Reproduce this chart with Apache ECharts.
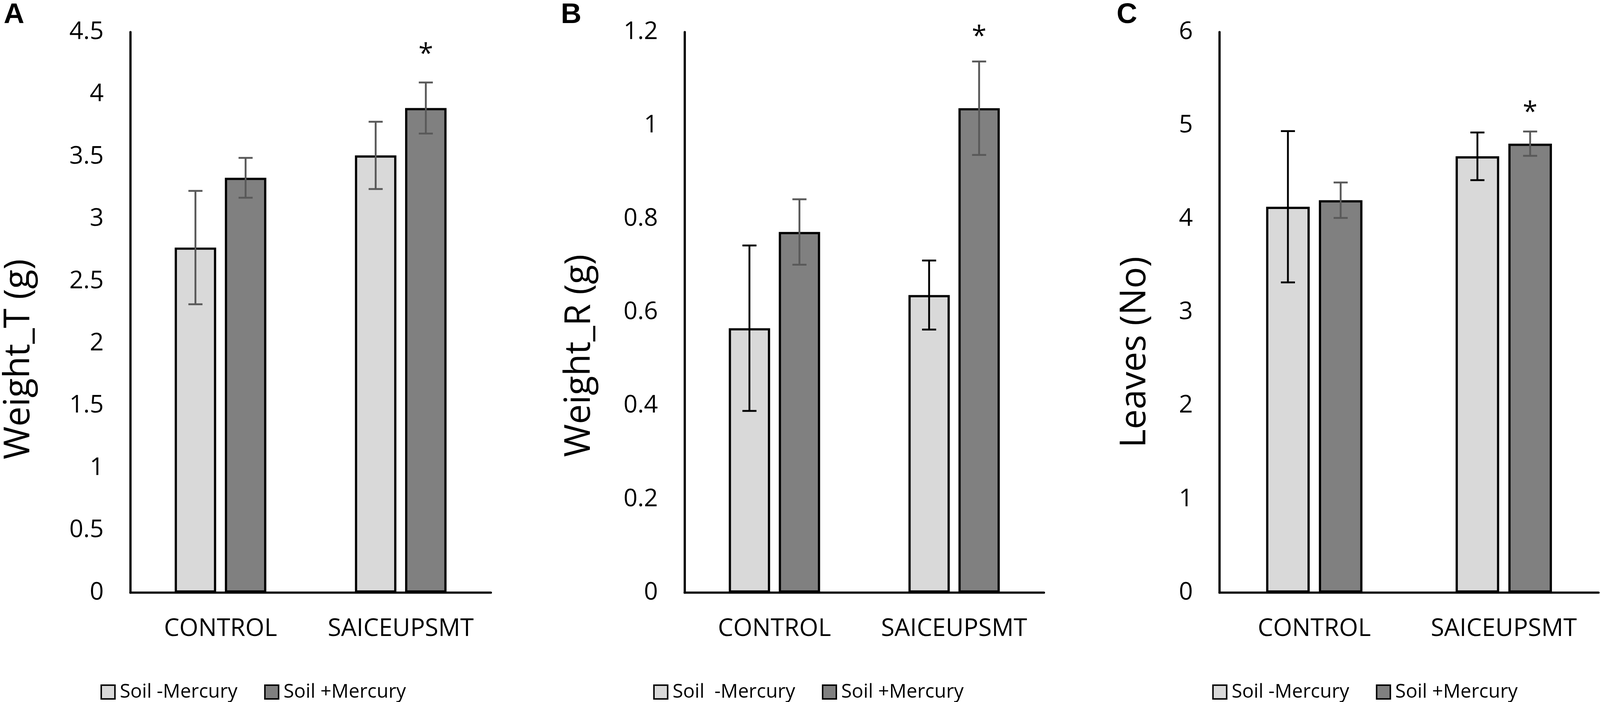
<!DOCTYPE html>
<html>
<head>
<meta charset="utf-8">
<title>Weight and leaves</title>
<script src="https://cdn.jsdelivr.net/npm/echarts@6/dist/echarts.min.js"></script>
<style>
  html, body { margin: 0; padding: 0; background: #fff; overflow: hidden; }
  #main { width: 100vw; height: 100vh; }
</style>
</head>
<body>
<div id="main"></div>
<script>
// categories
var categories = ['CONTROL', 'SAICEUPSMT'];

// A: Weight_T (g)
var weightTMinus = [2.77, 3.51];
var weightTMinusErr = [0.455, 0.27];
var weightTPlus = [3.33, 3.89];
var weightTPlusErr = [0.16, 0.205];
var weightTStar = [null, 4.36];

// B: Weight_R (g)
var weightRMinus = [0.566, 0.637];
var weightRMinusErr = [0.177, 0.074];
var weightRPlus = [0.772, 1.037];
var weightRPlusErr = [0.07, 0.10];
var weightRStar = [null, 1.2];

// C: Leaves (No)
var leavesMinus = [4.13, 4.67];
var leavesMinusErr = [0.81, 0.255];
var leavesPlus = [4.2, 4.805];
var leavesPlusErr = [0.19, 0.13];
var leavesStar = [null, 5.19];

var FONT = '"Open Sans", "DejaVu Sans", sans-serif';
var BAR_W = 0.23, BAR_GAP = 0.21;

// layout is measured on a 4319 x 1797 page, scaled to the real viewport
var dom = document.getElementById('main');
var sx = dom.clientWidth / 4319, sy = dom.clientHeight / 1797;
var sf = Math.min(sx, sy);
function X(v) { return v * sx; }
function Y(v) { return v * sy; }
function F(v) { return v * sf; }

var panels = [
    {letter: 'A', letterLeft: 10, left: 352, width: 973, yName: 'Weight_T (g)', nameGap: 252, shift: 120,
        max: 4.5, interval: 0.5, minusName: 'Soil -Mercury', plusName: 'Soil +Mercury',
        minus: weightTMinus, minusErr: weightTMinusErr, plus: weightTPlus, plusErr: weightTPlusErr,
        star: weightTStar, legendLeft: 266, errColors: ['#595959', '#595959']},
    {letter: 'B', letterLeft: 1514, left: 1848, width: 970, yName: 'Weight_R (g)', nameGap: 235, shift: 111,
        max: 1.2, interval: 0.2, minusName: 'Soil  -Mercury', plusName: 'Soil +Mercury',
        minus: weightRMinus, minusErr: weightRMinusErr, plus: weightRPlus, plusErr: weightRPlusErr,
        star: weightRStar, legendLeft: 1758, errColors: ['#000000', '#595959']},
    {letter: 'C', letterLeft: 3014, left: 3292, width: 1023, yName: 'Leaves (No)', nameGap: 180, shift: 102,
        max: 6, interval: 1, minusName: 'Soil -Mercury', plusName: 'Soil +Mercury',
        minus: leavesMinus, minusErr: leavesMinusErr, plus: leavesPlus, plusErr: leavesPlusErr,
        star: leavesStar, legendLeft: 3267, errColors: ['#000000', '#595959']}
];

// error bar drawn over bar number `pos` (0 = left bar, 1 = right bar)
function errorBars(idx, values, errs, pos, color) {
    return {
        type: 'custom',
        xAxisIndex: idx,
        yAxisIndex: idx,
        z: 5,
        silent: true,
        renderItem: function (params, api) {
            var band = api.size([1, 0])[0];
            var bw = band * BAR_W;
            var dx = (pos === 0 ? -1 : 1) * (bw + bw * BAR_GAP) / 2;
            var top = api.coord([api.value(0), api.value(2)]);
            var bot = api.coord([api.value(0), api.value(1)]);
            var x = top[0] + dx, half = X(19);
            var st = {stroke: color, lineWidth: F(5)};
            return {
                type: 'group',
                children: [
                    {type: 'line', shape: {x1: x, y1: top[1], x2: x, y2: bot[1]}, style: st},
                    {type: 'line', shape: {x1: x - half, y1: top[1], x2: x + half, y2: top[1]}, style: st},
                    {type: 'line', shape: {x1: x - half, y1: bot[1], x2: x + half, y2: bot[1]}, style: st}
                ]
            };
        },
        data: values.map(function (v, i) {
            return [i, v - errs[i], v + errs[i]];
        })
    };
}

var grids = [], xAxes = [], yAxes = [], series = [], legends = [], titles = [];

panels.forEach(function (p, i) {
    titles.push({
        text: p.letter, left: X(p.letterLeft), top: Y(2), padding: 0,
        textStyle: {fontFamily: '"Liberation Sans", Arial, sans-serif', fontWeight: 'bold', fontSize: F(77), color: '#000'}
    });
    grids.push({left: X(p.left), width: X(p.width), top: Y(82), height: Y(1435)});
    xAxes.push({
        type: 'category', gridIndex: i, data: categories,
        axisLine: {lineStyle: {color: '#000', width: F(6)}},
        axisTick: {show: false},
        axisLabel: {interval: 0, margin: Y(62), fontSize: F(66), color: '#000', fontFamily: FONT}
    });
    yAxes.push({
        type: 'value', gridIndex: i, min: 0, max: p.max, interval: p.interval,
        name: p.yName, nameLocation: 'middle', nameGap: X(p.nameGap),
        // the rotated title runs along y, so its size follows the vertical scale
        nameTextStyle: {fontSize: Y(91), color: '#000', fontFamily: FONT, padding: [0, Y(p.shift * 2), 0, 0]},
        axisLine: {show: true, lineStyle: {color: '#000', width: F(6)}},
        axisTick: {show: false},
        splitLine: {show: false},
        axisLabel: {margin: X(72), fontSize: F(66), color: '#000', fontFamily: FONT}
    });
    series.push({
        name: p.minusName, type: 'bar', xAxisIndex: i, yAxisIndex: i,
        barWidth: (BAR_W * 100) + '%', barGap: (BAR_GAP * 100) + '%',
        itemStyle: {color: '#d9d9d9', borderColor: '#000', borderWidth: F(6)},
        data: p.minus
    });
    series.push({
        name: p.plusName, type: 'bar', xAxisIndex: i, yAxisIndex: i,
        barWidth: (BAR_W * 100) + '%', barGap: (BAR_GAP * 100) + '%',
        itemStyle: {color: '#808080', borderColor: '#000', borderWidth: F(6)},
        data: p.plus
    });
    series.push(errorBars(i, p.minus, p.minusErr, 0, p.errColors[0]));
    series.push(errorBars(i, p.plus, p.plusErr, 1, p.errColors[1]));
    // significance asterisk over the right bar
    series.push({
        type: 'custom', xAxisIndex: i, yAxisIndex: i, z: 6, silent: true,
        renderItem: function (params, api) {
            var band = api.size([1, 0])[0];
            var bw = band * BAR_W;
            var pt = api.coord([api.value(0), api.value(1)]);
            return {
                type: 'text',
                style: {
                    text: '*', x: pt[0] + (bw + bw * BAR_GAP) / 2, y: pt[1] + Y(14),
                    align: 'center', verticalAlign: 'middle',
                    fontSize: F(72), fontFamily: FONT, fill: '#000'
                }
            };
        },
        data: p.star.map(function (v, k) { return [k, v]; }).filter(function (d) { return d[1] != null; })
    });
    legends.push({
        left: X(p.legendLeft), top: Y(1742), orient: 'horizontal',
        data: [p.minusName, p.plusName],
        icon: 'rect', itemWidth: F(37), itemHeight: F(37), itemGap: X(72),
        itemStyle: {borderColor: '#000', borderWidth: F(4)},
        textStyle: {fontSize: F(52), color: '#000', fontFamily: FONT, padding: [0, 0, 0, X(8)]},
        selectedMode: false
    });
});

var chart = echarts.init(dom);
chart.setOption({
    animation: false,
    backgroundColor: '#fff',
    title: titles,
    grid: grids,
    xAxis: xAxes,
    yAxis: yAxes,
    legend: legends,
    series: series
});
</script>
</body>
</html>
